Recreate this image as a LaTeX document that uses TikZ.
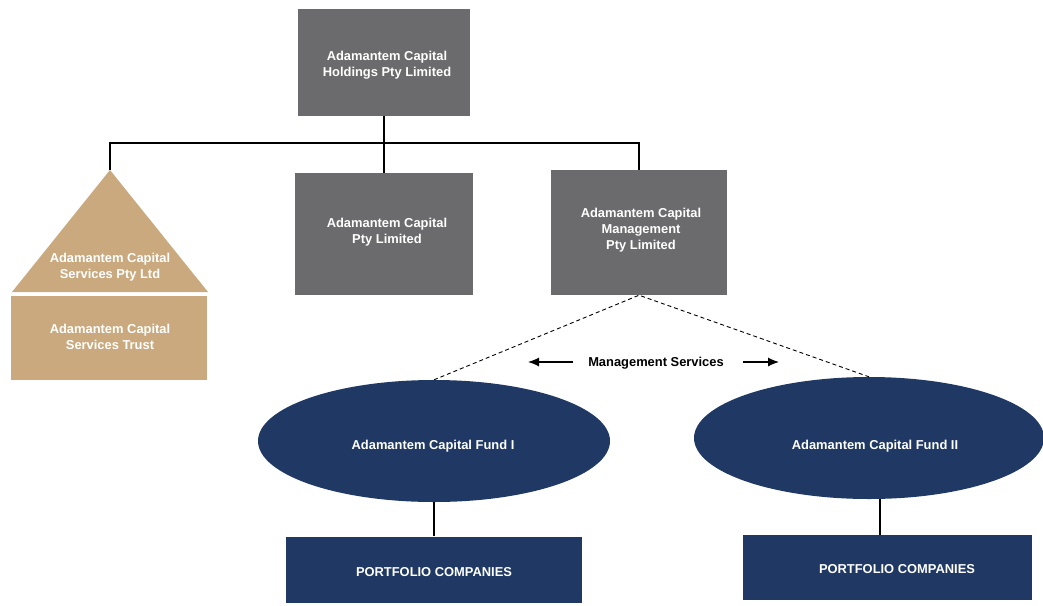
\documentclass[tikz,border=0pt]{standalone}
\usepackage{fontspec}
\setmainfont{Liberation Sans}
\usetikzlibrary{shapes.geometric,arrows.meta}
\definecolor{boxgray}{HTML}{6B6B6D}
\definecolor{fundnavy}{HTML}{1F3864}
\definecolor{svctan}{HTML}{C9A97D}
\tikzset{
  lbl/.style={font=\bfseries\fontsize{12.9}{16}\selectfont, align=center, inner sep=0pt},
  wlbl/.style={lbl, text=white},
  graybox/.style={fill=boxgray, inner sep=0pt},
  navybox/.style={fill=fundnavy, inner sep=0pt},
  tanbox/.style={fill=svctan, inner sep=0pt},
  fund/.style={ellipse, fill=fundnavy, inner sep=0pt, minimum width=352pt, minimum height=122pt},
  link/.style={draw=black, line width=1.2pt},
  mgmtlink/.style={draw=black, line width=0.9pt, dash pattern=on 4pt off 3pt},
  flowarrow/.style={draw=black, line width=1.1pt, -{Latex[length=11pt,width=9pt]}}
}
\begin{document}
\begin{tikzpicture}[x=1pt,y=-1pt]
\useasboundingbox (0,0) rectangle (1043,605);

% group companies
\node[graybox, minimum width=172pt, minimum height=107pt] (hold) at (384,62.5) {};
\node[wlbl] (holdT) at (387,65) {Adamantem Capital\\Holdings Pty Limited};
\node[graybox, minimum width=178pt, minimum height=122pt] (cap) at (384,234) {};
\node[wlbl] (capT) at (387,232) {Adamantem Capital\\Pty Limited};
\node[graybox, minimum width=176pt, minimum height=125pt] (mgmt) at (639,232.5) {};
\node[wlbl] (mgmtT) at (641,230) {Adamantem Capital\\Management\\Pty Limited};

% services entity: roof (Pty Ltd) over base (Trust)
\fill[svctan] (110,170) -- (208,292) -- (12,292) -- cycle;
\coordinate (apex) at (110,170);
\node[wlbl] (svcltd) at (110,267) {Adamantem Capital\\Services Pty Ltd};
\node[tanbox, minimum width=196pt, minimum height=84pt] (trust) at (109,338) {};
\node[wlbl] (trustT) at (110,337) {Adamantem Capital\\Services Trust};

% ownership tree
\coordinate (bus) at (0,143);
\draw[link] (hold.south) -- (cap.north);
\draw[link] (apex) |- (bus -| mgmt.north) -- (mgmt.north);

% funds and portfolios
\node[fund] (f1) at (434,441) {};
\node[wlbl] (f1T) at (433,446) {Adamantem Capital Fund I};
\node[fund, minimum width=350pt] (f2) at (869,438) {};
\node[wlbl] (f2T) at (875,446) {Adamantem Capital Fund II};
\node[navybox, minimum width=296pt, minimum height=66pt] (pc1) at (434,569.5) {};
\node[wlbl] (pc1T) at (434,572) {PORTFOLIO COMPANIES};
\node[navybox, minimum width=289pt, minimum height=65pt] (pc2) at (887.5,567.5) {};
\node[wlbl] (pc2T) at (897,569.5) {PORTFOLIO COMPANIES};
\draw[link] (f1.south) -- (pc1.north -| f1.south);
\draw[link] ([xshift=11pt]f2.south) -- ([xshift=11pt]f2.south |- pc2.north);

% management services relationship
\draw[mgmtlink] (f1.north) -- (mgmt.south) -- (f2.north);
\node[lbl, text=black] (ms) at (656,363) {Management Services};
\coordinate (msL) at (528,362);
\coordinate (msR) at (779,362);
\draw[flowarrow] (msL -| ms.west) ++(-15,0) -- (msL);
\draw[flowarrow] (msR -| ms.east) ++(19,0) -- (msR);
\end{tikzpicture}
\end{document}
